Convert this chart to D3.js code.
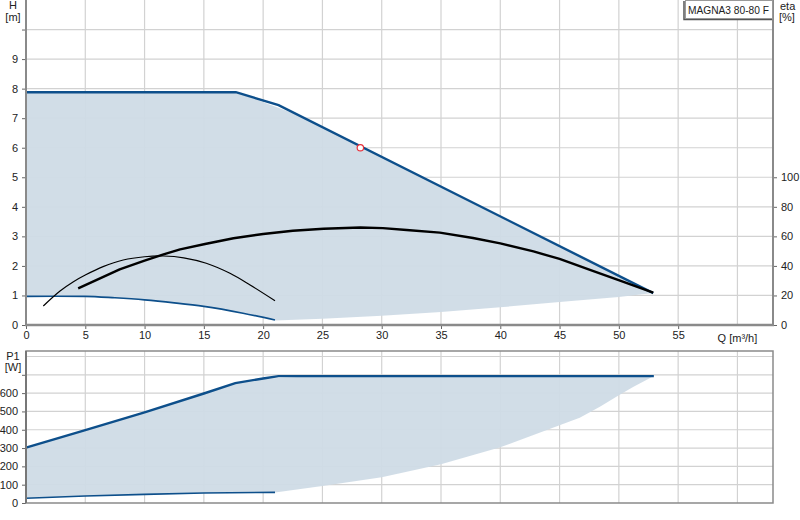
<!DOCTYPE html>
<html>
<head>
<meta charset="utf-8">
<script src="https://cdn.jsdelivr.net/npm/d3@7"></script>
<style>
  body { margin: 0; background: #fff; }
  text { font-family: "Liberation Sans", Arial, sans-serif; font-size: 11px; fill: #222; }
</style>
</head>
<body>
<div id="chart"></div>
<script>
// Pump curves: [Q m³/h, value]
const qTicks = [0, 5, 10, 15, 20, 25, 30, 35, 40, 45, 50, 55];
const hTicks = [0, 1, 2, 3, 4, 5, 6, 7, 8, 9];
const etaTicks = [0, 20, 40, 60, 80, 100];
const p1Ticks = [0, 100, 200, 300, 400, 500, 600];

const hMax = [[0, 7.88], [17.7, 7.88], [21.3, 7.44], [52.9, 1.08]];
const hMin = [[0, 0.97], [2.5, 0.975], [5, 0.97], [7.5, 0.92], [10, 0.85], [12.5, 0.75], [15, 0.63], [18.3, 0.4], [21, 0.17]];
const hFillTop = [[0, 7.88], [17.7, 7.88], [23.1, 7.08], [52.9, 1.08]];
const hSystem = [[21, 0.15], [25, 0.21], [30, 0.31], [35, 0.44], [40, 0.6], [45, 0.78], [50, 0.95], [52.9, 1.08]];

const etaMax = [[4.4, 24.8], [7.9, 37.7], [10, 43.5], [11.6, 47.8], [13, 51.2], [15.1, 54.8], [17.5, 58.7], [20, 61.6],
    [22.5, 63.8], [25.1, 65.2], [28.2, 66], [30.1, 65.6], [32.1, 64.3], [34.9, 62.5], [37.7, 58.9], [40, 55.3],
    [42.8, 49.8], [45, 44.7], [47.8, 36.6], [50.1, 30], [52.9, 21.9]];
const etaMin = [[1.46, 12.9], [2.87, 23], [4, 29.3], [5, 33.8], [6.5, 39.5], [8.2, 44], [10, 46.2], [11.6, 46.7],
    [13.3, 45.5], [15.2, 41.8], [17.2, 35], [18.9, 27.1], [21, 16.4]];

const dutyPoint = [28.2, 6.0];

const p1Max = [[0, 302], [5, 398], [10, 495], [15, 598], [17.65, 655], [20, 680], [21.3, 693], [52.95, 693]];
const p1Min = [[0, 26], [5, 38], [10, 47], [15, 55], [21, 58]];
const p1FillTop = [[0, 302], [5, 398], [10, 495], [15, 598], [17.65, 655], [20, 678], [24.5, 693], [52.95, 693]];
const p1System = [[21, 58], [25, 93], [30, 140], [35, 211], [40, 304], [45, 425], [46.7, 466], [48.4, 525], [50, 589], [51.2, 633], [52.95, 693]];

const W = 800, H = 520;
const left = 26, right = 773;
const blue = "#0d4f8b", fillCol = "#cfdbe6", gridCol = "#d2d2d2", axisCol = "#8a8a8a";

const svg = d3.select("#chart").append("svg")
    .attr("width", W).attr("height", H);

// Scales
const x = d3.scaleLinear().domain([0, 63]).range([left, right]);
const yH = d3.scaleLinear().domain([0, 11]).range([325, 0]);
const yEta = d3.scaleLinear().domain([0, 220]).range([325, 0]);
const yP = d3.scaleLinear().domain([0, 830]).range([503, 351]);

const lineH = d3.line().x(d => x(d[0])).y(d => yH(d[1]));
const lineEta = d3.line().x(d => x(d[0])).y(d => yEta(d[1]));
const lineP = d3.line().x(d => x(d[0])).y(d => yP(d[1]));

// ---------- Top chart: H / eta ----------
const topG = svg.append("g");

// grid
topG.append("g").selectAll("line")
    .data(d3.range(1, 11))
    .join("line")
    .attr("x1", left).attr("x2", right)
    .attr("y1", d => yH(d)).attr("y2", d => yH(d))
    .attr("stroke", gridCol).attr("stroke-width", 1.2);
topG.append("g").selectAll("line")
    .data(d3.range(5, 61, 5))
    .join("line")
    .attr("x1", d => x(d)).attr("x2", d => x(d))
    .attr("y1", 0).attr("y2", yH(0))
    .attr("stroke", gridCol).attr("stroke-width", 1.2);

// operating area
const hPoly = hFillTop.concat(hSystem.slice().reverse(), hMin.slice().reverse());
topG.append("path")
    .attr("d", lineH(hPoly) + "Z")
    .attr("fill", fillCol).attr("fill-opacity", 0.95);

// H curves
topG.append("path").datum(hMin)
    .attr("d", lineH.curve(d3.curveMonotoneX))
    .attr("fill", "none").attr("stroke", blue).attr("stroke-width", 1.6);
lineH.curve(d3.curveLinear);
topG.append("path").datum(hMax)
    .attr("d", lineH)
    .attr("fill", "none").attr("stroke", blue).attr("stroke-width", 2.4);

// eta curves
topG.append("path").datum(etaMin)
    .attr("d", lineEta.curve(d3.curveCatmullRom.alpha(0.5)))
    .attr("fill", "none").attr("stroke", "#000").attr("stroke-width", 1.2);
topG.append("path").datum(etaMax)
    .attr("d", lineEta.curve(d3.curveLinear))
    .attr("fill", "none").attr("stroke", "#000").attr("stroke-width", 2.4)
    .attr("stroke-linejoin", "round");

// duty point
topG.append("circle")
    .attr("cx", x(dutyPoint[0])).attr("cy", yH(dutyPoint[1]))
    .attr("r", 3.2)
    .attr("fill", "#fff").attr("stroke", "#e8303a").attr("stroke-width", 1.2);

// axes
const axH = topG.append("g")
    .attr("transform", `translate(${left},0)`)
    .call(d3.axisLeft(yH).tickValues(d3.range(0, 11)).tickSize(4).tickPadding(4)
        .tickFormat(d => hTicks.includes(d) ? d : ""));
const axEta = topG.append("g")
    .attr("transform", `translate(${right},0)`)
    .call(d3.axisRight(yEta).tickValues(etaTicks).tickSize(4).tickPadding(4));
const axQ = topG.append("g")
    .attr("transform", `translate(0,${yH(0)})`)
    .call(d3.axisBottom(x).tickValues(qTicks).tickSize(4).tickPadding(2));
[axH, axEta, axQ].forEach(a => {
    a.select(".domain").remove();
    a.selectAll(".tick line").attr("stroke", "#666");
    a.selectAll("text").attr("fill", "#222").style("font-size", "11px")
        .style("font-family", "'Liberation Sans', Arial, sans-serif");
});

// frame
topG.append("line").attr("x1", left).attr("x2", left).attr("y1", 0).attr("y2", yH(0))
    .attr("stroke", axisCol).attr("stroke-width", 2);
topG.append("line").attr("x1", right).attr("x2", right).attr("y1", 0).attr("y2", yH(0))
    .attr("stroke", axisCol).attr("stroke-width", 2);
topG.append("line").attr("x1", left - 1).attr("x2", right + 1).attr("y1", yH(0)).attr("y2", yH(0))
    .attr("stroke", axisCol).attr("stroke-width", 2.5);

// axis titles
topG.append("text").attr("x", 13).attr("y", 9).attr("text-anchor", "middle").attr("fill", "#1c1c4a").text("H");
topG.append("text").attr("x", 13).attr("y", 21).attr("text-anchor", "middle").attr("fill", "#1c1c4a").text("[m]");
topG.append("text").attr("x", 780).attr("y", 10).text("eta");
topG.append("text").attr("x", 779).attr("y", 21).text("[%]");
topG.append("text").attr("x", x(60)).attr("y", yH(0) + 17).attr("text-anchor", "middle").text("Q [m³/h]");

// legend box with a small shadow
topG.append("path")
    .attr("d", "M684,1 V19.5 H772")
    .attr("fill", "none").attr("stroke", "#555").attr("stroke-width", 1.5);
topG.append("rect")
    .attr("x", 685.5).attr("y", 0.5).attr("width", 87).attr("height", 18)
    .attr("fill", "#fff").attr("stroke", "#999").attr("stroke-width", 1);
topG.append("text").attr("x", 688).attr("y", 13.5).attr("fill", "#333")
    .attr("textLength", 81).attr("lengthAdjust", "spacingAndGlyphs")
    .text("MAGNA3 80-80 F");

// ---------- Bottom chart: P1 ----------
const bot = svg.append("g");

bot.append("g").selectAll("line")
    .data(d3.range(100, 801, 100))
    .join("line")
    .attr("x1", left).attr("x2", right)
    .attr("y1", d => yP(d)).attr("y2", d => yP(d))
    .attr("stroke", gridCol).attr("stroke-width", 1.2);
bot.append("g").selectAll("line")
    .data(d3.range(5, 61, 5))
    .join("line")
    .attr("x1", d => x(d)).attr("x2", d => x(d))
    .attr("y1", yP(830)).attr("y2", yP(0))
    .attr("stroke", gridCol).attr("stroke-width", 1.2);

const pPoly = p1FillTop.concat(p1System.slice().reverse(), p1Min.slice().reverse());
bot.append("path")
    .attr("d", lineP(pPoly) + "Z")
    .attr("fill", fillCol).attr("fill-opacity", 0.95);

bot.append("path").datum(p1Min)
    .attr("d", lineP)
    .attr("fill", "none").attr("stroke", blue).attr("stroke-width", 1.6);
bot.append("path").datum(p1Max)
    .attr("d", lineP)
    .attr("fill", "none").attr("stroke", blue).attr("stroke-width", 2.4);

const axP = bot.append("g")
    .attr("transform", `translate(${left},0)`)
    .call(d3.axisLeft(yP).tickValues(d3.range(0, 701, 100)).tickSize(4).tickPadding(4)
        .tickFormat(d => p1Ticks.includes(d) ? d : ""));
axP.select(".domain").remove();
axP.selectAll(".tick line").attr("stroke", "#666");
axP.selectAll("text").attr("fill", "#222").style("font-size", "11px")
    .style("font-family", "'Liberation Sans', Arial, sans-serif");

bot.append("rect")
    .attr("x", left).attr("y", yP(830)).attr("width", right - left).attr("height", yP(0) - yP(830))
    .attr("fill", "none").attr("stroke", axisCol).attr("stroke-width", 1.5);
bot.append("line").attr("x1", left).attr("x2", left).attr("y1", yP(830)).attr("y2", yP(0))
    .attr("stroke", "#777").attr("stroke-width", 2);

bot.append("text").attr("x", 13).attr("y", yP(830) + 9).attr("text-anchor", "middle").text("P1");
bot.append("text").attr("x", 13).attr("y", yP(830) + 20).attr("text-anchor", "middle").text("[W]");
</script>
</body>
</html>
